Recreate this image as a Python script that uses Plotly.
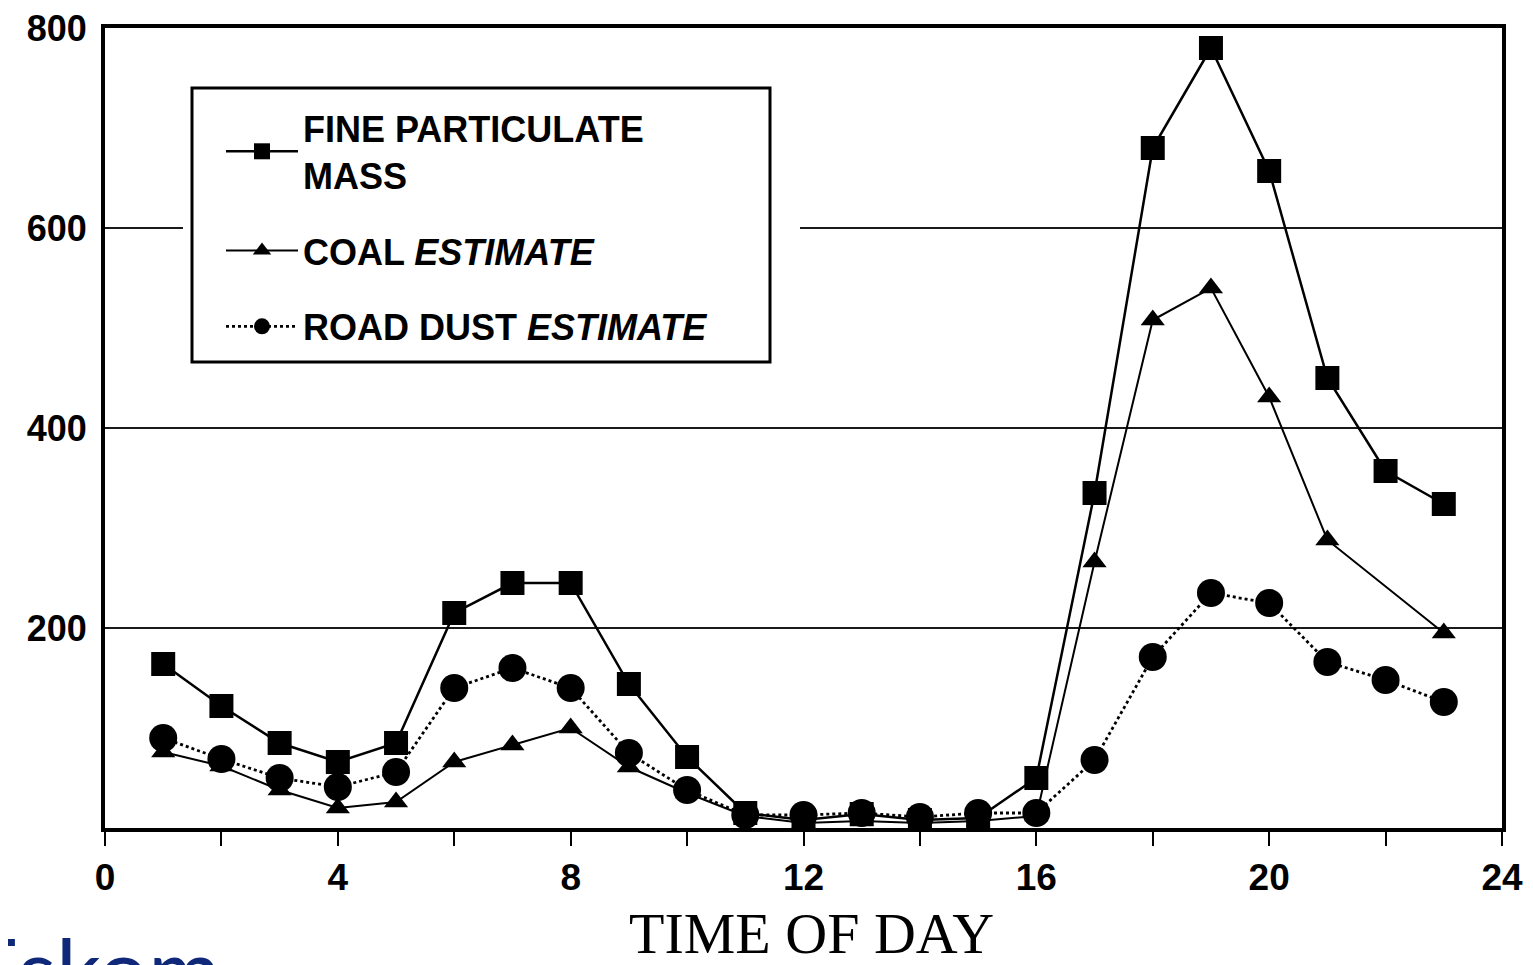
import plotly.graph_objects as go

hours = list(range(1, 24))
fine_mass = [164, 122, 85, 66, 85, 215, 245, 245, 144, 71, 15, 8, 14, 8, 10, 50, 335, 680, 780, 657, 450, 357, 324]
coal_hours = [1, 2, 3, 4, 5, 6, 7, 8, 9, 10, 11, 12, 13, 14, 15, 16, 17, 18, 19, 20, 21, 23]
coal = [76, 62, 38, 20, 26, 66, 83, 100, 61, 35, 12, 5, 7, 5, 7, 12, 266, 508, 540, 431, 288, 195]
road_dust = [90, 69, 50, 41, 56, 140, 160, 140, 75, 38, 13, 13, 15, 11, 15, 15, 68, 171, 235, 225, 166, 148, 126]

x_ticks = [0, 4, 8, 12, 16, 20, 24]
y_ticks = [200, 400, 600, 800]

OFF = 8  # page body margin
W, H = 1533 - OFF, 965 - OFF
L, T = 105 - OFF, 28 - OFF
R = (W + OFF) - 1502
B = (H + OFF) - 828
PW, PH = W - L - R, H - T - B

def px_x(p):
    return (p - (L + OFF)) / PW

def px_y(p):
    return ((H + OFF - B) - p) / PH

fig = go.Figure()
fig.add_trace(go.Scatter(
    x=hours, y=fine_mass, mode="lines+markers", name="FINE PARTICULATE<br>MASS",
    line=dict(color="black", width=2.5),
    marker=dict(symbol="square", size=24, color="black"),
    cliponaxis=False, legendgroup="a"))
fig.add_trace(go.Scatter(
    x=coal_hours, y=coal, mode="lines+markers", name="COAL <i>ESTIMATE</i>",
    line=dict(color="black", width=2),
    marker=dict(symbol="triangle-up", size=21, color="black"),
    cliponaxis=False, legendgroup="b"))
fig.add_trace(go.Scatter(
    x=hours, y=road_dust, mode="lines+markers", name="ROAD DUST <i>ESTIMATE</i>",
    line=dict(color="black", width=2.8, dash="dot"),
    marker=dict(symbol="circle", size=28, color="black"),
    cliponaxis=False, legendgroup="c"))

fig.add_shape(type="rect", xref="paper", yref="paper",
              x0=px_x(183), x1=px_x(800), y0=px_y(362), y1=px_y(86),
              fillcolor="white", line=dict(width=0), layer="above")
fig.add_shape(type="rect", xref="paper", yref="paper",
              x0=px_x(192), x1=px_x(770), y0=px_y(362), y1=px_y(88),
              fillcolor="rgba(0,0,0,0)", line=dict(color="black", width=3), layer="above")

fig.add_annotation(text="Eskom", xref="paper", yref="paper",
                   x=px_x(-34), y=px_y(968), xanchor="left", yanchor="middle",
                   showarrow=False, font=dict(family="Lato", size=88, color="#10287a"))

fig.add_annotation(text="TIME OF DAY", xref="paper", yref="paper",
                   x=px_x(811), y=px_y(933), xanchor="center", yanchor="middle",
                   showarrow=False, font=dict(family="Liberation Serif", size=58, color="black"))

fig.update_layout(
    width=W, height=H,
    margin=dict(l=L, r=R, t=T, b=B, autoexpand=False),
    paper_bgcolor="white", plot_bgcolor="white",
    showlegend=True,
    legend=dict(x=px_x(221), y=px_y(98), xanchor="left", yanchor="top",
                bgcolor="rgba(0,0,0,0)", borderwidth=0,
                font=dict(family="Liberation Sans", size=36, color="black", weight="bold"),
                tracegroupgap=26, itemwidth=72),
    xaxis=dict(range=[0, 24], tickvals=x_ticks, ticktext=[str(v) for v in x_ticks],
               ticks="outside", ticklen=14, tickwidth=2, tickcolor="black",
               minor=dict(dtick=2, ticks="outside", ticklen=14, tickwidth=2, tickcolor="black"),
               showline=True, linewidth=4, linecolor="black", mirror=True,
               showgrid=False, zeroline=False, ticklabeloverflow="allow", automargin=False,
               tickfont=dict(family="Liberation Sans", size=37, color="black", weight="bold")),
    yaxis=dict(range=[0, 800], tickvals=y_ticks, ticktext=[str(v) for v in y_ticks],
               ticks="", showline=True, linewidth=4, linecolor="black", mirror=True,
               showgrid=True, gridcolor="#1a1a1a", gridwidth=2, zeroline=False,
               ticklabelstandoff=7, ticklabeloverflow="allow", automargin=False,
               tickfont=dict(family="Liberation Sans", size=36, color="black", weight="bold")),
)

fig.write_html("out.html")
